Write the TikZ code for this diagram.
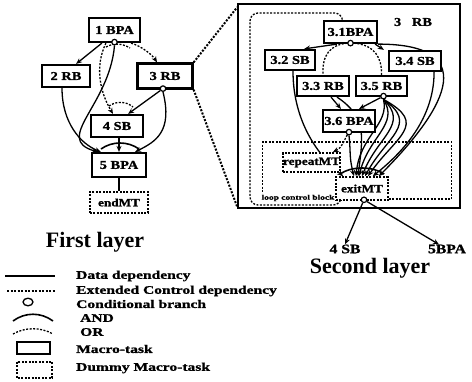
\documentclass[tikz,border=0pt]{standalone}
\usepackage{fontspec}
\setmainfont{Liberation Serif}
\newfontfamily\bxf[FakeStretch=1.2,FakeBold=1.2]{Liberation Serif}
\newfontfamily\lgf[FakeStretch=1.35,FakeBold=1.2]{Liberation Serif}
\usetikzlibrary{arrows.meta,calc,backgrounds}
\begin{document}
\begin{tikzpicture}[x=1pt,y=-1pt,
  mt/.style={draw,line width=2.2pt,fill=white,inner sep=0pt,font=\bxf\bfseries\fontsize{12}{12}\selectfont},
  dmt/.style={draw,line width=1.6pt,dash pattern=on 2pt off 1.4pt,fill=white,inner sep=0pt,font=\bxf\bfseries\fontsize{11}{11}\selectfont},
  dep/.style={line width=1.3pt,-{Stealth[length=6pt,width=5pt]}},
  ln/.style={line width=1.3pt},
  ctl/.style={line width=1.3pt,dash pattern=on 2pt off 1.5pt,-{Stealth[length=6pt,width=5pt]}},
  ctln/.style={line width=1.3pt,dash pattern=on 2pt off 1.5pt},
  cb/.style={draw,circle,line width=1.2pt,fill=white,inner sep=0pt,minimum size=5.5pt},
  zoomln/.style={line width=2pt,dash pattern=on 2pt off 1.5pt},
  lgtext/.style={anchor=west,font=\lgf\bfseries\fontsize{11.5}{11.5}\selectfont,inner sep=0pt},
  lbl/.style={inner sep=0pt,font=\bxf\bfseries\fontsize{13}{13}\selectfont},
  big/.style={font=\bfseries\fontsize{22}{22}\selectfont,inner sep=0pt}]
\useasboundingbox (0,0) rectangle (472,381);

% ---------- first layer ----------
\node[mt,minimum width=51pt,minimum height=24pt] (b1) at (114.5,30) {1 BPA};
\node[mt,minimum width=48pt,minimum height=22pt] (b2) at (66,76) {2 RB};
\node[mt,minimum width=55pt,minimum height=25pt] (b3) at (165,76) {3 RB};
\node[mt,minimum width=52pt,minimum height=22pt] (b4) at (117,126) {4 SB};
\node[mt,minimum width=54pt,minimum height=24pt] (b5) at (119,165) {5 BPA};
\node[dmt,minimum width=58pt,minimum height=21pt] (end) at (119,202.5) {endMT};
\node[cb] (c1) at ([yshift=1pt]b1.south) {};
\node[cb] (c3) at ([xshift=-2pt,yshift=1pt]b3.south) {};
\node[big] (fl) at (95,242) {First layer};

% ---------- second layer ----------
\node[draw,line width=1.6pt,minimum width=222pt,minimum height=204pt,inner sep=0pt] (L2) at (349,106) {};
\node[draw,line width=1.4pt,dash pattern=on 2pt off 1.5pt,minimum width=189pt,minimum height=57pt,inner sep=0pt] (lp) at (357,170.5) {};
\node[lbl,font=\bxf\bfseries\fontsize{12}{12}\selectfont] (l3) at (413,22) {3\ \ \ RB};
\node[mt,minimum width=53pt,minimum height=22pt] (s1) at (350.5,32) {3.1BPA};
\node[mt,minimum width=50pt,minimum height=20pt] (s2) at (290,60) {3.2 SB};
\node[mt,minimum width=52pt,minimum height=20pt] (s4) at (415,61) {3.4 SB};
\node[mt,minimum width=52pt,minimum height=20pt] (s3) at (323,86) {3.3 RB};
\node[mt,minimum width=51pt,minimum height=20pt] (s5) at (381.5,86) {3.5 RB};
\node[mt,minimum width=52pt,minimum height=22pt] (s6) at (349,121) {3.6 BPA};
\node[dmt,minimum width=53pt,minimum height=19pt] (rep) at (311.5,162.5) {repeatMT};
\node[dmt,minimum width=52pt,minimum height=23pt] (ex) at (362,188.5) {exitMT};
\node[inner sep=0.5pt,fill=white,font=\lgf\bfseries\fontsize{7}{7}\selectfont] (lcb) at (298,198) {loop control block};
\node[cb] (cs1) at ([yshift=1pt]s1.south) {};
\node[cb] (cs5) at ([xshift=2pt,yshift=1pt]s5.south) {};
\node[cb] (cs6) at ([yshift=1pt]s6.south) {};
\node[cb] (cex) at ([xshift=2pt,yshift=1pt]ex.south) {};
\node[lbl] (t4) at (345,249) {4 SB};
\node[lbl] (t5) at (447,249) {5BPA};
\node[big] (sl) at (370,268) {Second layer};

% ---------- legend ----------
\node[lgtext] (g1) at (76,276) {Data dependency};
\node[lgtext] (g2) at (76,291) {Extended Control dependency};
\node[lgtext] (g3) at (76,304) {Conditional branch};
\node[lgtext] (g4) at (80,318) {AND};
\node[lgtext] (g5) at (80,332) {OR};
\node[lgtext] (g6) at (76,349) {Macro-task};
\node[lgtext] (g7) at (76,368) {Dummy Macro-task};
\draw[line width=1.4pt] (5,276) -- (55,276);
\draw[ctln] (7,291) -- (55,291);
\draw[line width=1.3pt] (28,302) ellipse [x radius=5pt,y radius=3.8pt];
\draw[line width=1.6pt] (13,321) .. controls (25,312) and (41,312) .. (53,321);
\draw[ctln] (13,334) .. controls (25,327) and (41,327) .. (53,334);
\draw[line width=2.2pt] (17,342) rectangle (50,354);
\draw[line width=1.6pt,dash pattern=on 2pt off 1.4pt] (17,362) rectangle (52,378);

% ---------- connectors ----------
\begin{scope}[on background layer]
\fill[white] (0,0) rectangle (472,381);
% layer 1
\draw[dep] ([xshift=14pt]b1.south west) -- ([xshift=-15pt]b2.north east);
\draw[ctl] ([xshift=-10pt]b1.south east) .. controls +(10,3) and +(-5,-8) .. ([xshift=-8pt]b3.north);
\draw[ctl] ([xshift=18pt]b1.south west) .. controls +(-12,25) and +(-12,-20) .. ([xshift=-4pt]b4.north);
\draw[dep] (c1.south) .. controls +(-5,60) and +(-45,-13) .. ([xshift=7pt]b5.north west);
\draw[dep] ([xshift=-4pt]b2.south) .. controls +(0,35) and +(-20,-8) .. ([xshift=10pt]b5.north west);
\draw[dep] (c3) -- ([xshift=-16pt]b4.north east);
\draw[dep] (c3.south) .. controls +(10,40) and +(20,-10) .. ([xshift=-12pt]b5.north east);
\draw[dep] ([xshift=2pt]b4.south) -- ([xshift=0pt]b5.north);
\draw[ln] (b5.south) -- (end.north);
\draw[ctln] (106,47) .. controls (113,43) and (122,43) .. (130,48);
\draw[ctln] (109,106) .. controls (116,101) and (126,101) .. (133,107);
\draw[line width=1.6pt] (101,149) .. controls (112,141) and (128,141) .. (139,149);
\draw[zoomln] (b3.north east) -- ([yshift=-4pt]L2.north west);
\draw[zoomln] (b3.south east) -- ([yshift=2pt]L2.south west);
% layer 2
\draw[dep] ([xshift=14pt]s1.south west) -- ([xshift=-12pt]s2.north east);
\draw[dep] ([xshift=-3pt]s1.south east) -- ([xshift=-4pt]s4.north west);
\draw[dep] (s1.south east) .. controls +(110,0) and +(60,-60) .. ([xshift=-10pt]ex.north east);
\draw[dep] ([xshift=-8pt]s4.south east) .. controls +(0,50) and +(25,-20) .. ([xshift=-16pt]ex.north east);
\draw[dep] ([xshift=3pt]s2.south) .. controls +(0,45) and +(-30,-25) .. ([xshift=8pt]ex.north west);
\draw[ctln] (cs1.west) .. controls (330,45) and (322,55) .. (s3.north);
\draw[ctln] (cs1.east) .. controls (375,45) and (382,58) .. (s5.north);
\draw[dep] ([xshift=8pt]s3.south) -- ([xshift=-8pt]s6.north);
\draw[dep] ([xshift=14pt]s3.south) .. controls +(30,20) and +(5,-40) .. ([xshift=-4pt]ex.north);
\draw[dep] (cs5) -- ([xshift=10pt]s6.north);
\foreach \b/\s in {6/-6,16/-3,26/0,36/3,46/6} {
  \draw[dep] (cs5.south) .. controls +(\b,25) and +(0.6*\b,-40) .. ([xshift=\s pt]ex.north);
}
\draw[ctl] (cs6) .. controls +(-5,8) and +(10,-5) .. ([xshift=-8pt]rep.north east);
\draw[dep] (cs6.south) .. controls +(2,20) and +(-5,-20) .. ([xshift=-8pt]ex.north);
\draw[line width=1.6pt] (340,174) .. controls (352,166) and (372,166) .. (384,174);
\draw[ctl,rounded corners=8pt] ([xshift=6pt]ex.south west) |- (250,205) -- (250,13) -| ([xshift=-8pt]s1.north);
\draw[dep] (cex) -- (t4.north);
\draw[dep] (cex) -- ([xshift=-8pt]t5.north);
\end{scope}
\end{tikzpicture}
\end{document}
